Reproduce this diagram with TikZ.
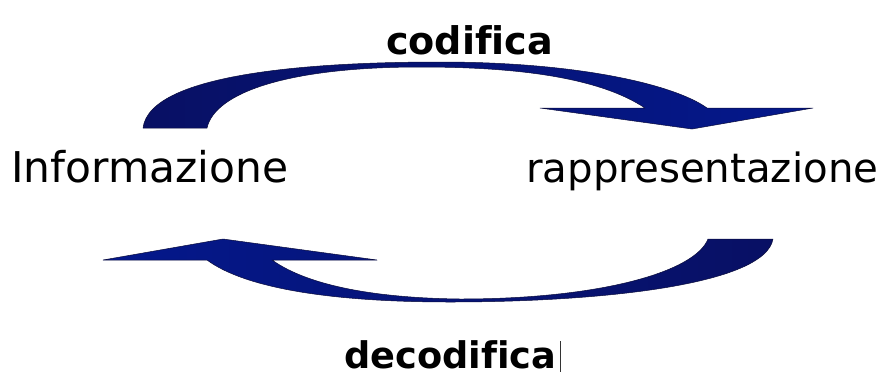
\documentclass[tikz,border=0pt]{standalone}
\usepackage{fontspec}
\setmainfont{DejaVu Sans}[Ligatures=NoCommon]
\usepackage{graphicx}
\definecolor{navyDark}{RGB}{8,16,100}
\definecolor{navyLight}{RGB}{4,24,140}
\definecolor{navyEdge}{RGB}{10,12,60}
\begin{document}
\begin{tikzpicture}[x=1pt,y=-1pt,
  lbl/.style={inner sep=0pt, anchor=base west, text=black},
  blockarrow/.style={draw=navyEdge, line width=0.5pt, line join=round},
  cursorbar/.style={draw=black!80, line width=0.8pt}]
\useasboundingbox[fill=white] (0,0) rectangle (884,376);

% top curved arrow (codifica), dark at base, brighter at the head
\path[blockarrow, left color=navyDark, right color=navyLight]
  (143,128) .. controls (150,72) and (320,62) .. (440,62)
  .. controls (580,62) and (675,85) .. (707,108)
  -- (813,108) -- (692,129) -- (540,108) -- (645,108)
  .. controls (600,78) and (520,67) .. (420,67)
  .. controls (290,67) and (215,92) .. (207,128) -- cycle;

% bottom curved arrow (decodifica)
\path[blockarrow, left color=navyLight, right color=navyDark]
  (773,239) .. controls (765,285) and (600,302) .. (450,302)
  .. controls (330,302) and (245,288) .. (207,260)
  -- (103,260) -- (223,239) -- (377,260) -- (272,260)
  .. controls (310,287) and (380,298) .. (460,299)
  .. controls (600,299) and (695,272) .. (708,239) -- cycle;

\node[lbl] (info) at (11,182) {\resizebox{277pt}{!}{Informazione}};
\node[lbl] (rapp) at (526,182) {\resizebox{352pt}{!}{rappresentazione}};
\node[lbl] (cod) at (386,54) {\resizebox{167pt}{!}{\bfseries codifica}};
\node[lbl] (decod) at (344,368) {\resizebox{212pt}{!}{\bfseries decodifica}};

\coordinate (curTop) at (560,341);
\coordinate (curBot) at (560,372);
\draw[cursorbar] (curTop) -- (curBot);
\end{tikzpicture}
\end{document}
